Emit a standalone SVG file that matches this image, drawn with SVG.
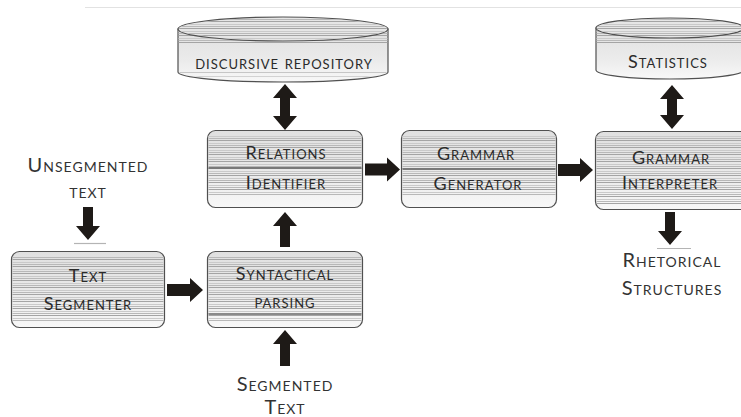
<svg xmlns="http://www.w3.org/2000/svg" width="741" height="417" viewBox="0 0 741 417">
<style>
.box{stroke:#505050;stroke-width:1.2}
.lbl{font-family:Lato,"Open Sans","Liberation Sans",sans-serif;font-variant:small-caps;fill:#2a2a2a;text-anchor:middle;letter-spacing:1px}
.in{font-size:18px}
.out{font-size:20px;fill:#333}
.arr{fill:#1e1a17}
.ul{stroke:#b4b4b4;stroke-width:1.2}
</style>
<defs>
<linearGradient id="g" x1="0" y1="0" x2="0" y2="1">
<stop offset="0" stop-color="#e0e0e0"/>
<stop offset="0.6" stop-color="#ebebeb"/>
<stop offset="1" stop-color="#f8f8f8"/>
</linearGradient>
<pattern id="st" width="8" height="7" patternUnits="userSpaceOnUse">
<rect y="0" width="8" height="1" fill="#a4a4a4"/>
<rect y="3" width="8" height="1" fill="#cacaca"/>
<rect y="5" width="8" height="1" fill="#b8b8b8"/>
</pattern>
<pattern id="stl" width="8" height="9" patternUnits="userSpaceOnUse">
<rect y="0" width="8" height="1" fill="#c6c6c6"/>
<rect y="4" width="8" height="1" fill="#d2d2d2"/>
</pattern>
</defs>
<line x1="85" y1="7.5" x2="741" y2="7.5" stroke="#e2e2e2" stroke-width="1"/>

<g id="repository">
<path class="box" d="M178,29 L178,72 A105,10 0 0 0 388,72 L388,29 Z" fill="url(#g)"/>
<path d="M178.6,29 L178.6,45 L387.4,45 L387.4,29 Z" fill="url(#st)"/>
<path d="M178.6,72 A105,10 0 0 0 387.4,72 L387.4,70 L178.6,70 Z" fill="url(#stl)"/>
<ellipse class="box" cx="283" cy="29" rx="105" ry="12" fill="#e6e6e6"/>
<ellipse cx="283" cy="29" rx="104" ry="11" fill="url(#st)"/>
<text class="lbl in" x="284" y="69">discursive repository</text>
</g>

<g id="statistics">
<path class="box" d="M596,28 L596,70 A74,9 0 0 0 744,70 L744,28 Z" fill="url(#g)"/>
<path d="M596.6,28 L596.6,43 L743.4,43 L743.4,28 Z" fill="url(#st)"/>
<ellipse class="box" cx="670" cy="28" rx="74" ry="10" fill="#e6e6e6"/>
<ellipse cx="670" cy="28" rx="73" ry="9" fill="url(#st)"/>
<text class="lbl in" x="668" y="68">Statistics</text>
</g>

<g id="relations-identifier">
<rect class="box" x="207.5" y="130.5" width="155" height="77" rx="8" fill="url(#g)"/>
<rect x="208.5" y="134" width="153" height="62" fill="url(#st)"/>
<rect x="208.5" y="167" width="153" height="2" fill="#7a7a7a"/>
<text class="lbl in" x="286" y="159">Relations</text>
<text class="lbl in" x="286" y="189">Identifier</text>
</g>

<g id="grammar-generator">
<rect class="box" x="401.5" y="130.5" width="155" height="77" rx="8" fill="url(#g)"/>
<rect x="402.5" y="134" width="153" height="62" fill="url(#st)"/>
<rect x="402.5" y="168" width="153" height="2" fill="#7a7a7a"/>
<text class="lbl in" x="476" y="160">Grammar</text>
<text class="lbl in" x="478" y="190">Generator</text>
</g>

<g id="grammar-interpreter">
<rect class="box" x="595.5" y="131.5" width="155" height="78" rx="8" fill="url(#g)"/>
<rect x="596.5" y="135" width="153" height="70" fill="url(#st)"/>
<text class="lbl in" x="671" y="164">Grammar</text>
<text class="lbl in" x="670" y="189">Interpreter</text>
</g>

<g id="text-segmenter">
<rect class="box" x="11.5" y="251.5" width="153" height="76" rx="8" fill="url(#g)"/>
<rect x="12.5" y="256" width="151" height="66" fill="url(#st)"/>
<text class="lbl in" x="88" y="282">Text</text>
<text class="lbl in" x="88" y="310">Segmenter</text>
</g>

<g id="syntactical-parsing">
<rect class="box" x="207.5" y="251.5" width="155" height="76" rx="8" fill="url(#g)"/>
<rect x="208.5" y="256" width="153" height="66" fill="url(#st)"/>
<rect x="208.5" y="313" width="153" height="2" fill="#8a8a8a"/>
<text class="lbl in" x="285" y="280">Syntactical</text>
<text class="lbl in" x="285" y="308">parsing</text>
</g>

<g id="unsegmented-text">
<text class="lbl out" x="88" y="172">Unsegmented</text>
<text class="lbl out" x="88" y="198">text</text>
</g>
<g id="segmented-text">
<text class="lbl out" x="285" y="391">Segmented</text>
<text class="lbl out" x="285" y="414">Text</text>
</g>
<g id="rhetorical-structures">
<text class="lbl out" x="672" y="267">Rhetorical</text>
<text class="lbl out" x="672" y="295">Structures</text>
</g>

<g id="connectors">
<path class="arr" d="M285,84 L297,98 L290,98 L290,116 L297,116 L285,130 L273,116 L280,116 L280,98 L273,98 Z"/>
<path class="arr" d="M672,85 L684,99 L677,99 L677,115 L684,115 L672,129 L660,115 L667,115 L667,99 L660,99 Z"/>
<path class="arr" d="M365,163.5 L387,163.5 L387,157.5 L400,169.5 L387,181.5 L387,175.5 L365,175.5 Z"/>
<path class="arr" d="M558,164 L580,164 L580,158 L593,170 L580,182 L580,176 L558,176 Z"/>
<path class="arr" d="M167,284 L190,284 L190,278 L203,290 L190,302 L190,296 L167,296 Z"/>
<path class="arr" d="M285,212 L297,226 L290,226 L290,247 L280,247 L280,226 L273,226 Z"/>
<path class="arr" d="M285,330 L297,344 L290,344 L290,366 L280,366 L280,344 L273,344 Z"/>
<path class="arr" d="M83,207 L93,207 L93,226 L100,226 L88,240 L76,226 L83,226 Z"/>
<path class="arr" d="M665,212 L675,212 L675,231 L682,231 L670,245 L658,231 L665,231 Z"/>
<line class="ul" x1="74" y1="243.5" x2="106" y2="243.5"/>
<line class="ul" x1="657" y1="248.5" x2="691" y2="248.5"/>
</g>
</svg>
